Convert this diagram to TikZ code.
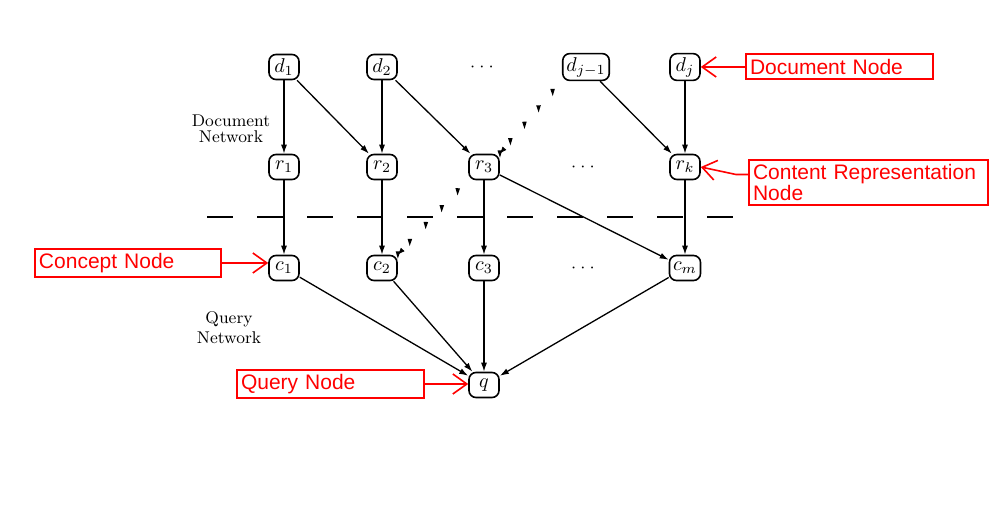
\documentclass[tikz,border=0pt]{standalone}
\usepackage{fontspec}
\newfontfamily\rotulo{Liberation Sans}
\usetikzlibrary{positioning,arrows.meta,decorations.markings}
\tikzset{redepx/.style={x=0.5pt,y=-0.5pt}}
\definecolor{rnline}{HTML}{000000}
\definecolor{rnanot}{HTML}{FF0000}
\newcommand{\pontaseta}{\fill[rnline,rotate=42] (2pt,0) -- (-1.6pt,1.15pt) -- (-1.6pt,-1.15pt) -- cycle;}
\tikzset{
  no/.style={draw=rnline,line width=0.8pt,rounded corners=3.5pt,fill=white,
    font=\fontsize{10}{11}\selectfont,inner sep=1.8pt,minimum width=15pt,minimum height=12.5pt},
  seta/.style={-{Latex[length=4.5pt,width=3pt]},line width=0.65pt,rnline},
  rede/.style={font=\fontsize{8.5}{8}\selectfont,align=center,text=rnline},
  reticencias/.style={font=\fontsize{9}{10}\selectfont,inner sep=0pt},
  nota/.style={draw=rnanot,line width=1pt,text=rnanot,font=\rotulo\fontsize{10.5}{10.5}\selectfont,
    align=left,inner sep=2pt,minimum height=12.5pt},
  notaseta/.style={rnanot,line width=0.8pt,-{Straight Barb[length=7pt,width=10pt,line width=0.8pt]}},
  divisa/.style={rnline,line width=1pt,dash pattern=on 13pt off 12pt},
  pontilhado/.style={decorate,decoration={markings,
    mark=between positions 0.15 and 0.9 step 0.227 with {\pontaseta},
    mark=at position 1 with {\pontaseta\arrow{Latex[length=3.5pt,width=2.6pt]}}}},
}
\begin{document}
\begin{tikzpicture}[redepx]
  \path[use as bounding box,fill=white] (0,0) rectangle (1002,507);
  % documentos
  \node[no] (d1) at (284,67) {$d_1$};
  \node[no] (d2) at (382,67) {$d_2$};
  \node[reticencias] (pd) at (482,67) {$\cdot\cdot\cdot$};
  \node[no] (dj1) at (586,67) {$d_{j-1}$};
  \node[no] (dj) at (685,67) {$d_j$};
  % representacoes
  \node[no] (r1) at (284,167) {$r_1$};
  \node[no] (r2) at (382,167) {$r_2$};
  \node[no] (r3) at (484,167) {$r_3$};
  \node[reticencias] (pr) at (583,167) {$\cdot\cdot\cdot$};
  \node[no] (rk) at (685,167) {$r_k$};
  % conceitos
  \node[no] (c1) at (284,268) {$c_1$};
  \node[no] (c2) at (382,268) {$c_2$};
  \node[no] (c3) at (484,268) {$c_3$};
  \node[reticencias] (pc) at (583,268) {$\cdot\cdot\cdot$};
  \node[no] (cm) at (685,268) {$c_m$};
  \node[no] (q) at (484,385) {$q$};
  \node[rede,font=\fontsize{8.5}{8}\selectfont] (ldoc) at (231,129) {Document\\Network};
  \node[rede,font=\fontsize{8.5}{10}\selectfont] (lq) at (229,328) {Query\\Network};
  % divisa entre as redes
  \coordinate (divesq) at (207,217);
  \coordinate (divdir) at (737,217);
  \draw[divisa] (divesq) -- (divdir);
  \draw[seta] (d1) -- (r1);
  \draw[seta] (d1) -- (r2);
  \draw[seta] (d2) -- (r2);
  \draw[seta] (d2) -- (r3);
  \draw[seta] (dj1) -- (rk);
  \draw[seta] (dj) -- (rk);
  \draw[seta] (r1) -- (c1);
  \draw[seta] (r2) -- (c2);
  \draw[seta] (r3) -- (c3);
  \draw[seta] (r3) -- (cm);
  \draw[seta] (rk) -- (cm);
  \draw[seta] (c1) -- (q);
  \draw[seta] (c2) -- (q);
  \draw[seta] (c3) -- (q);
  \draw[seta] (cm) -- (q);
  \path[pontilhado] (dj1.south west) -- (r3.north east);
  \path[pontilhado] (r3.south west) -- (c2.north east);
  % anotacoes
  \node[nota,text width=89.5pt] (ndoc) at (839.5,67) {Document Node};
  \node[nota,text width=115.5pt,minimum height=22.5pt] (ncont) at (868.5,182.5) {Content Representation\\Node};
  \node[nota,text width=89pt] (ncon) at (128,263) {Concept Node};
  \node[nota,text width=89.5pt] (nq) at (330.5,384) {Query Node};
  \draw[notaseta] (ndoc.west) -- (ndoc.west -| dj.east);
  \draw[notaseta] ([yshift=4pt]ncont.west) -- ++(-12,0) -- (rk.east);
  \draw[notaseta] (ncon.east) -- (ncon.east -| c1.west);
  \draw[notaseta] (nq.east) -- (nq.east -| q.west);
\end{tikzpicture}
\end{document}
